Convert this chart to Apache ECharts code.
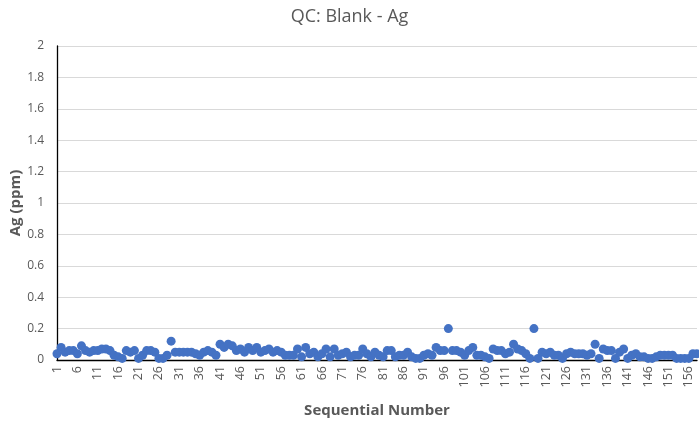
<!DOCTYPE html>
<html><head><meta charset="utf-8">
<script src="https://cdn.jsdelivr.net/npm/echarts@6/dist/echarts.min.js"></script>
<style>html,body{margin:0;padding:0;background:#fff}#c{width:699px;height:424px}</style>
</head><body><div id="c"></div>
<script>
var title = "QC: Blank - Ag";
var yAxisName = "Ag (ppm)";
var xAxisName = "Sequential Number";
var agValues = [
0.04,0.08,0.05,0.06,0.06,0.04,0.09,0.06,0.05,0.06,
0.06,0.07,0.07,0.06,0.03,0.02,0.01,0.06,0.05,0.06,
0.01,0.03,0.06,0.06,0.05,0.01,0.01,0.03,0.12,0.05,
0.05,0.05,0.05,0.05,0.04,0.03,0.05,0.06,0.05,0.03,
0.10,0.08,0.10,0.09,0.06,0.07,0.05,0.08,0.06,0.08,
0.05,0.06,0.07,0.05,0.06,0.05,0.03,0.03,0.03,0.07,
0.02,0.08,0.04,0.05,0.02,0.04,0.07,0.02,0.07,0.03,
0.04,0.05,0.02,0.03,0.03,0.07,0.04,0.02,0.05,0.03,
0.02,0.06,0.06,0.02,0.03,0.03,0.05,0.02,0.01,0.01,
0.03,0.04,0.03,0.08,0.06,0.06,0.20,0.06,0.06,0.05,
0.03,0.06,0.08,0.03,0.03,0.02,0.01,0.07,0.06,0.06,
0.04,0.05,0.10,0.07,0.06,0.04,0.01,0.20,0.01,0.05,
0.04,0.05,0.03,0.03,0.01,0.04,0.05,0.04,0.04,0.04,
0.03,0.04,0.10,0.01,0.07,0.06,0.06,0.01,0.05,0.07,
0.01,0.03,0.04,0.02,0.02,0.01,0.01,0.02,0.03,0.03,
0.03,0.03,0.01,0.01,0.01,0.01,0.04,0.04
];
var categories = agValues.map(function(_, i){ return String(i + 1); });
var yMin = 0, yMax = 2, yStep = 0.2;

var font = "'Open Sans', 'Noto Sans', sans-serif";
var chart = echarts.init(document.getElementById('c'), null, {renderer:'canvas'});
chart.setOption({
  animation:false,
  title:{text:title,left:'center',top:3,textStyle:{fontFamily:font,fontSize:18,fontWeight:'normal',color:'#595959'}},
  grid:{left:57,right:2,top:46,bottom:64,containLabel:false,outerBoundsMode:'none'},
  xAxis:{type:'category',data:categories,boundaryGap:false,
    name:xAxisName,nameLocation:'middle',nameGap:43,nameMoveOverlap:false,
    nameTextStyle:{fontFamily:font,fontSize:15,fontWeight:'bold',color:'#595959'},
    axisLine:{lineStyle:{color:'#000',width:1.3}},
    axisTick:{show:false},
    axisLabel:{interval:4,rotate:90,fontFamily:font,fontSize:12.5,color:'#595959',margin:6},
    splitLine:{show:false}},
  yAxis:{type:'value',min:yMin,max:yMax,interval:yStep,
    name:yAxisName,nameLocation:'middle',nameGap:34,nameMoveOverlap:false,
    nameTextStyle:{fontFamily:font,fontSize:15,fontWeight:'bold',color:'#595959'},
    axisLine:{show:true,lineStyle:{color:'#000',width:1.3}},
    axisTick:{show:false},
    axisLabel:{fontFamily:font,fontSize:12,color:'#595959',margin:13,
      formatter:function(v){return String(Math.round(v*10)/10);}},
    splitLine:{lineStyle:{color:'#d9d9d9',width:1}}},
  series:[{type:'scatter',data:agValues,symbol:'circle',symbolSize:9,
    itemStyle:{color:'#4472C4',opacity:1}}]
});
</script></body></html>
